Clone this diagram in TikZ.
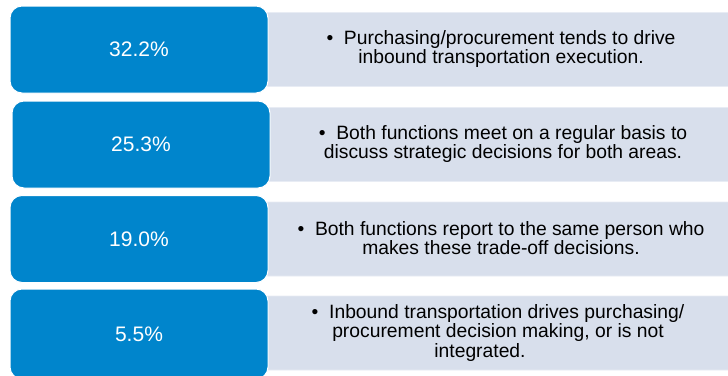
\documentclass[tikz,border=0pt]{standalone}
\usepackage{fontspec}
\setmainfont{Liberation Sans}
\definecolor{boxblue}{HTML}{0085CC}
\definecolor{boxgrey}{HTML}{D8DFEC}
\tikzset{
  pctbox/.style={draw=white, line width=1pt, fill=boxblue, rounded corners=12pt,
    minimum width=258pt, minimum height=87pt, text=white, font=\fontsize{21}{24}\selectfont},
  notebox/.style={draw=boxgrey!60!white, line width=0.6pt, fill=boxgrey, rounded corners=5pt,
    minimum width=475pt, minimum height=74pt},
  notetext/.style={align=center, font=\fontsize{19.3}{19.5}\selectfont, inner sep=0pt}
}
\begin{document}
\begin{tikzpicture}[x=1pt,y=-1pt]
    \useasboundingbox (0,0) rectangle (728,375);
    \clip (0,0) rectangle (728,375);

    \node[notebox] (n1) at (500,49.5) {};
    \node[notebox] (n2) at (500,144.5) {};
    \node[notebox] (n3) at (500,239) {};
    \node[notebox] (n4) at (500,333) {};

    \node[pctbox] (p1) at (139,49.5) {32.2\%};
    \node[pctbox] (p2) at (141,144.5) {25.3\%};
    \node[pctbox] (p3) at (139,239) {19.0\%};
    \node[pctbox, minimum height=90pt] (p4) at (139,334) {5.5\%};

    \node[notetext] (t1) at (501,49) {•\ \ Purchasing/procurement tends to drive\\inbound transportation execution.};
    \node[notetext] (t2) at (503,144) {•\ \ Both functions meet on a regular basis to\\discuss strategic decisions for both areas.};
    \node[notetext] (t3) at (501,238) {•\ \ Both functions report to the same person who\\makes these trade-off decisions.};
    \node[notetext] (t4) at (498,333) {•\ \ Inbound transportation drives purchasing/\\procurement decision making, or is not\\\hspace*{-36pt}integrated.};

\end{tikzpicture}
\end{document}
